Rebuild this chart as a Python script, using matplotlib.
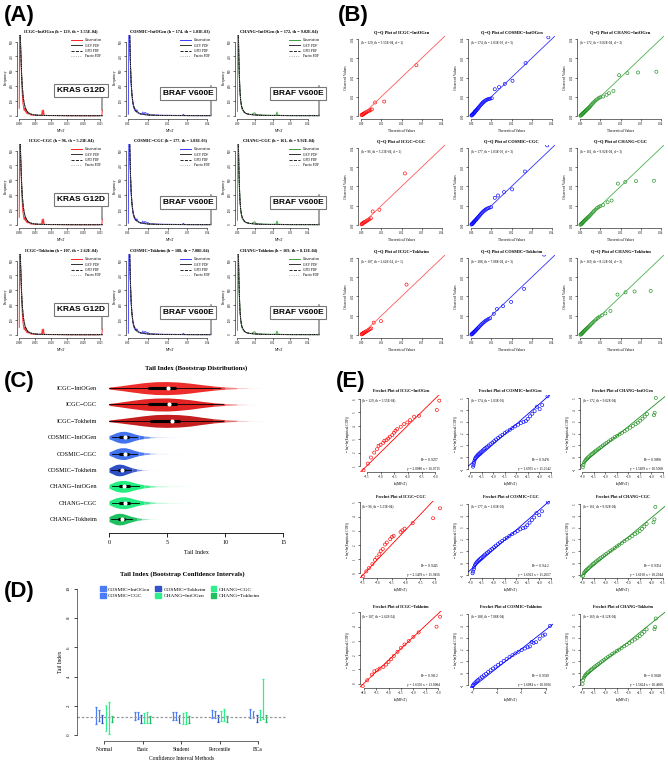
import numpy as np
import matplotlib
matplotlib.use('Agg')
import matplotlib.pyplot as plt
from matplotlib.patches import Patch
from matplotlib.lines import Line2D

# ---------------- datos ----------------
dbs = ['ICGC', 'COSMIC', 'CHANG']
gene_sets = ['IntOGen', 'CGC', 'Tokheim']
h_vals = [[129, 174, 172], [96, 177, 161], [107, 188, 169]]
th_vals = [['3.55E-04', '1.03E-03', '9.02E-04'],
           ['5.23E-04', '1.03E-03', '9.92E-04'],
           ['2.62E-04', '7.08E-04', '8.12E-04']]
d_vals = [1, 3, 3]
top_genes = ['KRAS G12D', 'BRAF V600E', 'BRAF V600E']

# (A) densidad observada y ajustes
a_icgc_obs_x = [0.0001, 0.0002, 0.0004, 0.0006, 0.0008, 0.0010, 0.0012, 0.0014, 0.0016, 0.0018, 0.0020,
                0.0022, 0.0024, 0.0026, 0.0028, 0.0030, 0.0035, 0.0040, 0.0050, 0.0060, 0.0070, 0.0072,
                0.0074, 0.0076, 0.0078, 0.0080, 0.0090, 0.0120, 0.0160, 0.0200, 0.0240, 0.0256, 0.0258]
a_icgc_obs_y = [50, 560, 560, 420, 260, 160, 90, 60, 35, 50, 25, 45, 15, 30, 10, 20, 6, 4, 3, 2, 3, 38,
                6, 38, 4, 2, 1, 1, 0, 0, 0, 2, 40]
a_icgc_fit_x = [0.0003, 0.0004, 0.0006, 0.0008, 0.0010, 0.0013, 0.0016, 0.0020, 0.0025, 0.0030, 0.0040,
                0.0050, 0.0070, 0.0100, 0.0150, 0.0200, 0.0258]
a_icgc_gev = [600, 560, 420, 300, 210, 130, 85, 50, 30, 18, 9, 5, 2.5, 1.2, 0.5, 0.3, 0.2]
a_icgc_gpd = [620, 545, 405, 292, 206, 128, 84, 50, 30, 18, 9, 5, 2.5, 1.2, 0.5, 0.3, 0.2]
a_icgc_par = [640, 530, 395, 285, 202, 126, 83, 49, 29, 17, 9, 5, 2.5, 1.2, 0.5, 0.3, 0.2]

a_cosmic_obs_x = [0.0002, 0.0004, 0.0008, 0.0010, 0.0013, 0.0016, 0.0020, 0.0025, 0.0030, 0.0035, 0.0040,
                  0.0045, 0.0050, 0.0060, 0.0070, 0.0075, 0.0080, 0.0085, 0.0090, 0.0095, 0.0100, 0.0110,
                  0.0130, 0.0150, 0.0180, 0.0200, 0.0250, 0.0275, 0.0280, 0.0285, 0.0300, 0.0350, 0.0400,
                  0.0415, 0.0420]
a_cosmic_obs_y = [10, 560, 560, 480, 330, 220, 140, 80, 50, 35, 30, 40, 25, 12, 10, 25, 8, 22, 20, 8, 15, 6,
                  5, 4, 3, 3, 2, 2, 10, 2, 1, 1, 1, 1, 6]
a_cosmic_fit_x = [0.0008, 0.0010, 0.0013, 0.0016, 0.0020, 0.0025, 0.0030, 0.0040, 0.0050, 0.0070, 0.0100,
                  0.0150, 0.0200, 0.0300, 0.0420]
a_cosmic_gev = [620, 480, 330, 225, 145, 90, 60, 32, 20, 10, 5, 2.5, 1.5, 0.8, 0.4]
a_cosmic_gpd = [600, 470, 325, 222, 144, 90, 60, 32, 20, 10, 5, 2.5, 1.5, 0.8, 0.4]
a_cosmic_par = [640, 490, 335, 228, 146, 91, 60, 32, 20, 10, 5, 2.5, 1.5, 0.8, 0.4]

a_chang_obs_x = [0.0002, 0.0004, 0.0006, 0.0008, 0.0010, 0.0013, 0.0016, 0.0020, 0.0025, 0.0030, 0.0040,
                 0.0050, 0.0060, 0.0080, 0.0095, 0.0100, 0.0105, 0.0120, 0.0150, 0.0200, 0.0220, 0.0225,
                 0.0230, 0.0260, 0.0300, 0.0400, 0.0460, 0.0465]
a_chang_obs_y = [30, 560, 560, 500, 380, 250, 160, 100, 60, 40, 22, 15, 10, 8, 18, 20, 10, 5, 4, 3, 5, 25,
                 4, 2, 1, 1, 1, 8]
a_chang_fit_x = [0.0006, 0.0008, 0.0010, 0.0013, 0.0016, 0.0020, 0.0025, 0.0030, 0.0040, 0.0050, 0.0070,
                 0.0100, 0.0150, 0.0200, 0.0300, 0.0465]
a_chang_gev = [620, 500, 380, 260, 170, 105, 65, 45, 25, 16, 9, 5, 2.5, 1.5, 0.8, 0.4]
a_chang_gpd = [600, 490, 375, 257, 168, 104, 65, 45, 25, 16, 9, 5, 2.5, 1.5, 0.8, 0.4]
a_chang_par = [640, 510, 385, 263, 172, 106, 66, 45, 25, 16, 9, 5, 2.5, 1.5, 0.8, 0.4]

# (B) Q-Q: teoricos / observados
qq_icgc_int_t = [0.0002, 0.0004, 0.0006, 0.0008, 0.0010, 0.0012, 0.0015, 0.0018, 0.0021, 0.0025, 0.0029,
                 0.0034, 0.0040, 0.0046, 0.0053, 0.0069, 0.0114, 0.0274]
qq_icgc_int_o = [0.0004, 0.0006, 0.0007, 0.0008, 0.0010, 0.0011, 0.0013, 0.0015, 0.0017, 0.0019, 0.0022,
                 0.0025, 0.0027, 0.0031, 0.0034, 0.0070, 0.0075, 0.0264]
qq_icgc_cgc_t = [0.0002, 0.0004, 0.0006, 0.0008, 0.0011, 0.0014, 0.0017, 0.0021, 0.0025, 0.0030, 0.0035,
                 0.0041, 0.0048, 0.0057, 0.0090, 0.0217]
qq_icgc_cgc_o = [0.0003, 0.0005, 0.0007, 0.0009, 0.0011, 0.0013, 0.0015, 0.0017, 0.0020, 0.0023, 0.0027,
                 0.0030, 0.0035, 0.0070, 0.0079, 0.0268]
qq_icgc_tok_t = [0.0002, 0.0004, 0.0006, 0.0008, 0.0010, 0.0013, 0.0016, 0.0019, 0.0023, 0.0027, 0.0032,
                 0.0037, 0.0043, 0.0050, 0.0062, 0.0098, 0.0225]
qq_icgc_tok_o = [0.0003, 0.0005, 0.0006, 0.0008, 0.0009, 0.0011, 0.0013, 0.0015, 0.0017, 0.0020, 0.0023,
                 0.0026, 0.0030, 0.0034, 0.0064, 0.0072, 0.0262]
qq_cosmic_int_t = [0.0001, 0.0003, 0.0005, 0.0007, 0.0009, 0.0011, 0.0013, 0.0015, 0.0017, 0.0019, 0.0021,
                   0.0024, 0.0027, 0.0030, 0.0033, 0.0036, 0.0040, 0.0044, 0.0048, 0.0052, 0.0056, 0.0060,
                   0.0065, 0.0070, 0.0075, 0.0081, 0.0087, 0.0094, 0.0102, 0.0117, 0.0138, 0.0167, 0.0205,
                   0.0270, 0.0383]
qq_cosmic_int_o = [0.0002, 0.0004, 0.0006, 0.0008, 0.0010, 0.0012, 0.0014, 0.0017, 0.0019, 0.0022, 0.0025,
                   0.0028, 0.0031, 0.0035, 0.0039, 0.0043, 0.0048, 0.0053, 0.0058, 0.0063, 0.0068, 0.0072,
                   0.0076, 0.0080, 0.0083, 0.0086, 0.0088, 0.0090, 0.0092, 0.0139, 0.0150, 0.0167, 0.0183,
                   0.0275, 0.0409]
qq_cosmic_cgc_t = [0.0001, 0.0003, 0.0005, 0.0007, 0.0009, 0.0011, 0.0013, 0.0015, 0.0017, 0.0020, 0.0023,
                   0.0026, 0.0029, 0.0032, 0.0036, 0.0040, 0.0044, 0.0048, 0.0052, 0.0057, 0.0062, 0.0067,
                   0.0072, 0.0078, 0.0084, 0.0091, 0.0099, 0.0117, 0.0133, 0.0163, 0.0203, 0.0267, 0.0377]
qq_cosmic_cgc_o = [0.0002, 0.0004, 0.0006, 0.0008, 0.0010, 0.0012, 0.0015, 0.0017, 0.0020, 0.0023, 0.0026,
                   0.0030, 0.0034, 0.0038, 0.0042, 0.0047, 0.0052, 0.0057, 0.0062, 0.0067, 0.0072, 0.0076,
                   0.0080, 0.0084, 0.0087, 0.0090, 0.0093, 0.0141, 0.0153, 0.0171, 0.0185, 0.0278, 0.0414]
qq_cosmic_tok_t = [0.0001, 0.0003, 0.0005, 0.0007, 0.0009, 0.0011, 0.0013, 0.0016, 0.0019, 0.0022, 0.0025,
                   0.0028, 0.0032, 0.0036, 0.0040, 0.0045, 0.0050, 0.0055, 0.0060, 0.0066, 0.0072, 0.0079,
                   0.0086, 0.0094, 0.0112, 0.0128, 0.0158, 0.0198, 0.0262, 0.0362]
qq_cosmic_tok_o = [0.0002, 0.0004, 0.0006, 0.0008, 0.0010, 0.0012, 0.0014, 0.0017, 0.0020, 0.0023, 0.0027,
                   0.0030, 0.0034, 0.0039, 0.0043, 0.0049, 0.0054, 0.0059, 0.0064, 0.0069, 0.0074, 0.0079,
                   0.0083, 0.0087, 0.0110, 0.0135, 0.0150, 0.0172, 0.0240, 0.0418]
qq_chang_int_t = [0.0001, 0.0003, 0.0005, 0.0007, 0.0009, 0.0011, 0.0013, 0.0015, 0.0017, 0.0019, 0.0022,
                  0.0025, 0.0028, 0.0031, 0.0034, 0.0038, 0.0042, 0.0046, 0.0050, 0.0055, 0.0060, 0.0065,
                  0.0071, 0.0077, 0.0084, 0.0092, 0.0100, 0.0114, 0.0131, 0.0143, 0.0165, 0.0193, 0.0234,
                  0.0287, 0.0378]
qq_chang_int_o = [0.0001, 0.0003, 0.0005, 0.0007, 0.0009, 0.0011, 0.0013, 0.0015, 0.0017, 0.0019, 0.0022,
                  0.0025, 0.0028, 0.0031, 0.0034, 0.0038, 0.0042, 0.0046, 0.0051, 0.0057, 0.0063, 0.0069,
                  0.0075, 0.0081, 0.0087, 0.0093, 0.0097, 0.0101, 0.0110, 0.0118, 0.0130, 0.0212, 0.0223,
                  0.0226, 0.0230]
qq_chang_cgc_t = [0.0001, 0.0003, 0.0005, 0.0007, 0.0009, 0.0011, 0.0013, 0.0015, 0.0018, 0.0021, 0.0024,
                  0.0027, 0.0030, 0.0034, 0.0038, 0.0042, 0.0047, 0.0052, 0.0057, 0.0063, 0.0069, 0.0076,
                  0.0083, 0.0091, 0.0100, 0.0114, 0.0136, 0.0156, 0.0187, 0.0224, 0.0277, 0.0366]
qq_chang_cgc_o = [0.0001, 0.0003, 0.0005, 0.0007, 0.0009, 0.0011, 0.0013, 0.0016, 0.0019, 0.0022, 0.0025,
                  0.0028, 0.0031, 0.0035, 0.0039, 0.0043, 0.0048, 0.0054, 0.0060, 0.0066, 0.0073, 0.0080,
                  0.0087, 0.0093, 0.0098, 0.0104, 0.0118, 0.0127, 0.0215, 0.0224, 0.0228, 0.0230]
qq_chang_tok_t = [0.0001, 0.0003, 0.0005, 0.0007, 0.0009, 0.0011, 0.0013, 0.0015, 0.0018, 0.0021, 0.0024,
                  0.0027, 0.0031, 0.0035, 0.0039, 0.0044, 0.0049, 0.0054, 0.0060, 0.0066, 0.0073, 0.0080,
                  0.0088, 0.0096, 0.0108, 0.0125, 0.0150, 0.0185, 0.0225, 0.0270, 0.0350]
qq_chang_tok_o = [0.0001, 0.0003, 0.0005, 0.0007, 0.0009, 0.0011, 0.0013, 0.0016, 0.0019, 0.0022, 0.0025,
                  0.0028, 0.0032, 0.0036, 0.0040, 0.0045, 0.0050, 0.0056, 0.0062, 0.0068, 0.0075, 0.0082,
                  0.0089, 0.0095, 0.0102, 0.0112, 0.0125, 0.0210, 0.0222, 0.0226, 0.0229]

# (E) Frechet: ln(MFsT) / -ln(-ln(ECDF))
fr_icgc_int_x = [-7.62, -7.46, -7.35, -7.23, -7.13, -7.07, -7.00, -6.90, -6.86, -6.78, -6.72, -6.66, -6.57,
                 -6.51, -6.45, -6.39, -6.26, -6.14, -6.02, -5.92, -5.77, -5.59, -4.94, -4.85]
fr_icgc_int_y = [0.68, 1.18, 1.63, 2.00, 2.25, 2.50, 2.58, 2.73, 2.88, 2.93, 3.05, 3.18, 3.30, 3.48, 3.63,
                 3.75, 3.93, 4.13, 4.25, 4.43, 4.68, 4.75, 5.18, 5.88]
fr_icgc_cgc_x = [-7.50, -7.38, -7.29, -7.17, -7.08, -7.02, -6.93, -6.88, -6.81, -6.73, -6.67, -6.55, -6.49,
                 -6.43, -6.19, -6.13, -6.05, -5.77, -5.06, -4.82]
fr_icgc_cgc_y = [-0.23, 0.12, 0.35, 0.63, 0.93, 1.09, 1.33, 1.56, 1.70, 2.02, 2.16, 2.40, 2.56, 2.63, 2.91,
                 3.02, 3.14, 3.53, 3.88, 4.58]
fr_icgc_tok_x = [-8.04, -7.86, -7.67, -7.57, -7.47, -7.36, -7.21, -7.10, -7.00, -6.90, -6.79, -6.64, -6.50,
                 -6.36, -6.19, -6.00, -5.79, -5.07, -4.93]
fr_icgc_tok_y = [-0.16, 0.24, 0.64, 0.87, 0.94, 1.06, 1.18, 1.34, 1.53, 1.72, 1.95, 2.24, 2.52, 2.75, 2.99,
                 3.29, 3.60, 4.00, 4.70]
fr_cosmic_int_x = [-6.88, -6.86, -6.84, -6.82, -6.80, -6.77, -6.74, -6.70, -6.66, -6.62, -6.57, -6.52, -6.46,
                   -6.40, -6.34, -6.27, -6.20, -6.12, -6.04, -5.96, -5.88, -5.79, -5.70, -5.60, -5.50, -5.40,
                   -5.28, -5.17, -5.05, -4.92, -4.80, -4.68, -4.58, -4.50, -4.40, -4.30, -4.20, -4.10, -3.98,
                   -3.87, -3.64]
fr_cosmic_int_y = [-0.80, -0.66, -0.48, -0.30, -0.16, -0.06, 0.04, 0.13, 0.22, 0.29, 0.38, 0.47, 0.57, 0.68,
                   0.77, 0.88, 0.99, 1.11, 1.24, 1.36, 1.50, 1.63, 1.76, 1.89, 2.04, 2.17, 2.31, 2.45, 2.60,
                   2.74, 2.88, 2.98, 3.05, 3.23, 3.45, 3.67, 3.89, 4.26, 4.06, 4.40, 5.14]
fr_cosmic_cgc_x = [-6.90, -6.88, -6.85, -6.83, -6.80, -6.76, -6.72, -6.68, -6.63, -6.58, -6.53, -6.47, -6.41,
                   -6.35, -6.28, -6.21, -6.13, -6.05, -5.97, -5.89, -5.80, -5.71, -5.61, -5.51, -5.41, -5.30,
                   -5.18, -5.06, -4.94, -4.82, -4.70, -4.60, -4.52, -4.42, -4.32, -4.22, -4.12, -4.00, -3.88,
                   -3.62]
fr_cosmic_cgc_y = [-0.85, -0.70, -0.50, -0.33, -0.15, -0.02, 0.08, 0.17, 0.26, 0.35, 0.44, 0.54, 0.65, 0.75,
                   0.86, 0.97, 1.10, 1.22, 1.35, 1.48, 1.62, 1.75, 1.88, 2.03, 2.15, 2.30, 2.45, 2.58, 2.72,
                   2.86, 2.96, 3.02, 3.20, 3.42, 3.64, 3.86, 4.22, 4.05, 4.38, 5.13]
fr_cosmic_tok_x = [-7.08, -7.06, -7.04, -7.01, -6.98, -6.94, -6.89, -6.84, -6.78, -6.71, -6.63, -6.55, -6.46,
                   -6.37, -6.27, -6.17, -6.07, -5.96, -5.85, -5.73, -5.61, -5.49, -5.37, -5.25, -5.12, -4.99,
                   -4.86, -4.74, -4.65, -4.58, -4.50, -4.40, -4.25, -4.12, -4.03, -3.82]
fr_cosmic_tok_y = [-1.60, -1.41, -1.23, -1.08, -0.98, -0.87, -0.77, -0.67, -0.56, -0.44, -0.31, -0.18, -0.05,
                   0.10, 0.25, 0.40, 0.55, 0.71, 0.86, 1.04, 1.20, 1.36, 1.52, 1.67, 1.81, 1.95, 2.08, 2.19,
                   2.26, 2.63, 2.56, 2.62, 2.91, 3.17, 3.26, 4.00]
fr_chang_int_x = [-6.98, -6.95, -6.92, -6.88, -6.84, -6.80, -6.75, -6.70, -6.64, -6.58, -6.52, -6.46, -6.40,
                  -6.33, -6.26, -6.19, -6.11, -6.03, -5.95, -5.86, -5.77, -5.68, -5.58, -5.48, -5.38, -5.27,
                  -5.16, -5.05, -4.92, -4.80, -4.68, -4.58, -4.48, -4.38, -4.28, -4.18, -3.88, -3.85, -3.80]
fr_chang_int_y = [-0.85, -0.65, -0.45, -0.31, -0.21, -0.11, -0.02, 0.07, 0.18, 0.28, 0.38, 0.47, 0.56, 0.66,
                  0.76, 0.86, 0.98, 1.09, 1.20, 1.32, 1.45, 1.56, 1.69, 1.81, 1.93, 2.06, 2.19, 2.33, 2.49,
                  2.64, 2.79, 2.92, 3.08, 3.25, 3.43, 3.64, 3.55, 3.75, 5.00]
fr_chang_cgc_x = [-6.98, -6.96, -6.93, -6.90, -6.86, -6.82, -6.77, -6.72, -6.66, -6.60, -6.54, -6.48, -6.41,
                  -6.34, -6.27, -6.20, -6.12, -6.04, -5.96, -5.87, -5.78, -5.69, -5.59, -5.49, -5.39, -5.28,
                  -5.17, -5.06, -4.94, -4.82, -4.70, -4.60, -4.50, -4.40, -4.30, -4.20, -3.90, -3.86, -3.82]
fr_chang_cgc_y = [-1.33, -1.05, -0.86, -0.76, -0.66, -0.58, -0.48, -0.39, -0.28, -0.17, -0.07, 0.02, 0.14,
                  0.24, 0.34, 0.45, 0.56, 0.67, 0.78, 0.91, 1.03, 1.15, 1.28, 1.42, 1.56, 1.71, 1.86, 2.00,
                  2.15, 2.30, 2.45, 2.58, 2.72, 2.90, 3.09, 3.31, 3.45, 3.70, 4.75]
fr_chang_tok_x = [-6.99, -6.96, -6.93, -6.89, -6.85, -6.80, -6.75, -6.69, -6.63, -6.57, -6.50, -6.43, -6.36,
                  -6.29, -6.21, -6.13, -6.05, -5.97, -5.88, -5.79, -5.70, -5.60, -5.50, -5.40, -5.29, -5.18,
                  -5.07, -4.95, -4.83, -4.71, -4.60, -4.50, -4.40, -4.30, -4.20, -3.86, -3.83, -3.80]
fr_chang_tok_y = [-0.91, -0.61, -0.37, -0.23, -0.12, -0.02, 0.07, 0.18, 0.28, 0.38, 0.49, 0.59, 0.69, 0.79,
                  0.91, 1.02, 1.14, 1.25, 1.37, 1.49, 1.62, 1.74, 1.87, 1.99, 2.13, 2.27, 2.40, 2.55, 2.69,
                  2.84, 2.99, 3.13, 3.31, 3.49, 3.70, 3.72, 3.90, 4.62]
fr_slope = [[2.0080, 1.6935, 1.5839], [2.1439, 1.6923, 1.6160], [1.6356, 1.6084, 1.5624]]
fr_icpt = [[16.0715, 11.2542, 10.5068], [15.9456, 11.2657, 10.2944], [13.0984, 10.0926, 10.4606]]
fr_r2 = [['0.9237', '0.9478', '0.9608'], ['0.9245', '0.9412', '0.9324'], ['0.9812', '0.9549', '0.9648']]

# (C) perfiles de densidad bootstrap del indice de cola
vio_labels = ['ICGC−IntOGen', 'ICGC−CGC', 'ICGC−Tokheim', 'COSMIC−IntOGen', 'COSMIC−CGC',
              'COSMIC−Tokheim', 'CHANG−IntOGen', 'CHANG−CGC', 'CHANG−Tokheim']
vio_colors = ['#ee2c2c', '#e02424', '#c41e1e', '#4272ee', '#4272ee', '#2e4fc4', '#22ee80', '#22ea80', '#1ec062']
vio_icgc_int_v = [0, 0.5, 1, 2, 3, 4, 5, 6, 7, 8, 9, 10, 11, 12, 13, 14.4]
vio_icgc_int_d = [0.06, 0.10, 0.14, 0.24, 0.33, 0.39, 0.40, 0.37, 0.30, 0.21, 0.13, 0.07, 0.035, 0.015, 0.007, 0.0]
vio_icgc_cgc_v = [0, 0.5, 1, 2, 3, 4, 5, 6, 7, 8, 9, 10, 11, 12, 13.6]
vio_icgc_cgc_d = [0.06, 0.10, 0.15, 0.25, 0.34, 0.39, 0.40, 0.36, 0.29, 0.19, 0.11, 0.06, 0.03, 0.012, 0.0]
vio_icgc_tok_v = [0, 0.5, 1, 2, 3, 4, 5, 6, 7, 8, 9, 10, 11, 12, 13, 14.5]
vio_icgc_tok_d = [0.05, 0.09, 0.13, 0.22, 0.31, 0.38, 0.40, 0.38, 0.32, 0.22, 0.13, 0.07, 0.035, 0.015, 0.007, 0.0]
vio_cosmic_int_v = [0, 0.3, 0.6, 1.0, 1.4, 1.8, 2.2, 2.6, 3.0, 3.5, 4.0, 5.0, 6.0, 7.0, 7.8]
vio_cosmic_int_d = [0.25, 0.45, 0.68, 0.88, 0.9, 0.74, 0.5, 0.32, 0.2, 0.11, 0.06, 0.03, 0.015, 0.007, 0.0]
vio_cosmic_cgc_v = [0, 0.3, 0.6, 1.0, 1.4, 1.8, 2.2, 2.6, 3.0, 3.5, 4.0, 5.0, 6.0, 7.4]
vio_cosmic_cgc_d = [0.25, 0.46, 0.7, 0.89, 0.9, 0.72, 0.48, 0.3, 0.18, 0.1, 0.05, 0.025, 0.01, 0.0]
vio_cosmic_tok_v = [0, 0.3, 0.6, 0.9, 1.2, 1.6, 2.0, 2.4, 2.8, 3.3, 3.8, 4.6]
vio_cosmic_tok_d = [0.35, 0.62, 0.88, 0.95, 0.87, 0.6, 0.34, 0.17, 0.08, 0.035, 0.012, 0.0]
vio_chang_int_v = [0, 0.3, 0.6, 1.0, 1.4, 1.8, 2.2, 2.6, 3.0, 3.5, 4.0, 5.0, 6.0, 7.0, 8.0, 9.6]
vio_chang_int_d = [0.3, 0.52, 0.75, 0.89, 0.9, 0.75, 0.54, 0.37, 0.24, 0.15, 0.09, 0.05, 0.03, 0.015, 0.008, 0.0]
vio_chang_cgc_v = [0, 0.3, 0.6, 1.0, 1.4, 1.8, 2.2, 2.6, 3.0, 3.5, 4.0, 5.0, 6.0, 7.0, 8.0, 9.4]
vio_chang_cgc_d = [0.3, 0.52, 0.75, 0.89, 0.9, 0.76, 0.55, 0.38, 0.25, 0.15, 0.09, 0.05, 0.03, 0.015, 0.008, 0.0]
vio_chang_tok_v = [0, 0.3, 0.6, 0.9, 1.2, 1.6, 2.0, 2.4, 2.8, 3.3, 3.8, 4.5, 5.8]
vio_chang_tok_d = [0.4, 0.65, 0.88, 0.95, 0.88, 0.64, 0.4, 0.23, 0.12, 0.06, 0.03, 0.012, 0.0]
# q1, mediana, q3, bigote inferior, bigote superior
vio_box = [[3.4, 5.1, 5.8, 0.0, 9.6], [3.4, 5.2, 5.9, 0.0, 9.8], [3.5, 5.4, 6.1, 0.0, 9.8],
           [0.9, 1.4, 1.7, 0.3, 2.4], [0.9, 1.35, 1.7, 0.3, 2.4], [0.8, 1.1, 1.4, 0.2, 1.9],
           [0.9, 1.3, 1.8, 0.3, 2.6], [0.9, 1.35, 1.85, 0.3, 2.6], [0.8, 1.1, 1.4, 0.2, 2.0]]

# (D) intervalos de confianza bootstrap
ci_methods = ['Normal', 'Basic', 'Student', 'Percentile', 'BCa']
ci_groups = ['COSMIC−IntOGen', 'COSMIC−CGC', 'COSMIC−Tokheim', 'CHANG−IntOGen', 'CHANG−CGC', 'CHANG−Tokheim']
ci_colors = ['#4a7cf5', '#4a7cf5', '#3152c8', '#2ef08a', '#2ef08a', '#1fbf5f']
ci_low = [[0.73, 1.03, 1.02, 1.15, 1.20],
          [0.98, 1.10, 1.05, 1.15, 1.20],
          [0.86, 0.86, 0.86, 0.92, 0.92],
          [0.30, 0.80, 0.77, 1.00, 1.05],
          [0.07, 0.80, 0.74, 1.00, 1.08],
          [0.90, 0.85, 0.85, 0.88, 0.90]]
ci_high = [[1.93, 1.60, 1.58, 1.75, 1.80],
           [1.70, 1.55, 1.55, 1.68, 1.68],
           [1.36, 1.36, 1.36, 1.40, 1.40],
           [2.09, 1.50, 1.50, 1.68, 1.75],
           [2.30, 1.55, 1.55, 1.78, 3.85],
           [1.32, 1.30, 1.30, 1.32, 1.35]]
ci_ref = 1.25

# ---------------- figura ----------------
plt.rcParams['font.family'] = ['Liberation Serif', 'DejaVu Serif']
plt.rcParams['axes.linewidth'] = 0.4

W, H = 668, 766
fig = plt.figure(figsize=(W / 100, H / 100), dpi=100)


def add_ax(left, top, width, height):
    # posicion en pixeles desde arriba a la izquierda
    return fig.add_axes([left / W, 1 - (top + height) / H, width / W, height / H])


def r_style(ax, xt, yt, fs=2.2, xlabels=None, ylabels=None):
    # ejes al estilo R base: sin caja, ejes limitados a los ticks
    ax.set_xticks(xt)
    ax.set_yticks(yt)
    if xlabels is not None:
        ax.set_xticklabels(xlabels)
    if ylabels is not None:
        ax.set_yticklabels(ylabels)
    for s in ['top', 'right']:
        ax.spines[s].set_visible(False)
    ax.spines['bottom'].set_bounds(xt[0], xt[-1])
    ax.spines['left'].set_bounds(yt[0], yt[-1])
    ax.tick_params(length=1.5, width=0.4, pad=1, labelsize=fs)
    for lab in ax.get_yticklabels():
        lab.set_rotation(90)
        lab.set_va('center')


# ---------- (A) ----------
a_data = [
    (a_icgc_obs_x, a_icgc_obs_y, a_icgc_fit_x, a_icgc_gev, a_icgc_gpd, a_icgc_par),
    (a_cosmic_obs_x, a_cosmic_obs_y, a_cosmic_fit_x, a_cosmic_gev, a_cosmic_gpd, a_cosmic_par),
    (a_chang_obs_x, a_chang_obs_y, a_chang_fit_x, a_chang_gev, a_chang_gpd, a_chang_par),
]
a_cols = ['#ff2020', '#3a3aff', '#3aa03a']
a_left = [17, 126, 235]
a_top = [35, 144, 254]
a_xlim = [(-0.0006, 0.0266), (-0.001, 0.0435), (-0.0012, 0.0485)]
a_xt = [[0, 0.005, 0.01, 0.015, 0.02, 0.025], [0, 0.01, 0.02, 0.03, 0.04], [0, 0.01, 0.02, 0.03, 0.04]]
a_xl = [['0.000', '0.005', '0.010', '0.015', '0.020', '0.025'], ['0.00', '0.01', '0.02', '0.03', '0.04'],
        ['0.00', '0.01', '0.02', '0.03', '0.04']]
a_box = [(0.73, 0.34), (0.705, 0.30), (0.715, 0.30)]

for r in range(3):
    for c in range(3):
        ox, oy, fx, gev, gpd, par = a_data[c]
        ax = add_ax(a_left[c], a_top[r], 88, 84)
        ax.plot(ox, oy, color=a_cols[c], lw=0.7, alpha=0.9)
        ax.plot(fx, gev, color='#333333', lw=0.7)
        ax.plot(fx, gpd, color='black', lw=0.6, ls='--')
        ax.plot(fx, par, color='#999999', lw=0.6, ls=':')
        ax.set_xlim(*a_xlim[c])
        ax.set_ylim(-22, 545)
        r_style(ax, a_xt[c], [0, 100, 200, 300, 400, 500], fs=2.2, xlabels=a_xl[c])
        ax.set_title(f'{dbs[c]}−{gene_sets[r]} (h = {h_vals[r][c]}, th = {th_vals[r][c]})',
                     fontsize=3.1, fontweight='bold', pad=2)
        ax.set_xlabel('MFsT', fontsize=2.6, labelpad=1.5)
        ax.set_ylabel('Frequency', fontsize=2.6, labelpad=1.5)
        handles = [Line2D([], [], color=a_cols[c], lw=0.7), Line2D([], [], color='#333333', lw=0.7),
                   Line2D([], [], color='black', lw=0.6, ls='--'), Line2D([], [], color='#999999', lw=0.6, ls=':')]
        ax.legend(handles, ['Observation', 'GEV PDF', 'GPD PDF', 'Pareto PDF'], loc='upper right',
                  fontsize=2.5, frameon=False, handlelength=3, labelspacing=0.35, borderaxespad=0.6)
        # marca del evento extremo
        ax.plot([ox[-1], ox[-1]], [oy[-1], 200], color='#888888', lw=1.1, zorder=2)
        ax.text(a_box[c][0], a_box[c][1], top_genes[c], transform=ax.transAxes, ha='center', va='center',
                fontsize=6, fontweight='bold', family=['Liberation Sans', 'DejaVu Sans'], zorder=5,
                bbox=dict(boxstyle='square,pad=0.35', fc='white', ec='#777777', lw=0.8))

# ---------- (B) ----------
qq_t = [[qq_icgc_int_t, qq_cosmic_int_t, qq_chang_int_t],
        [qq_icgc_cgc_t, qq_cosmic_cgc_t, qq_chang_cgc_t],
        [qq_icgc_tok_t, qq_cosmic_tok_t, qq_chang_tok_t]]
qq_o = [[qq_icgc_int_o, qq_cosmic_int_o, qq_chang_int_o],
        [qq_icgc_cgc_o, qq_cosmic_cgc_o, qq_chang_cgc_o],
        [qq_icgc_tok_o, qq_cosmic_tok_o, qq_chang_tok_o]]
b_pt = ['red', 'blue', '#1f8f1f']
b_line = ['#ff5a5a', '#3030ff', '#4caf50']
b_left = [358, 468, 577]
b_top = [36, 145, 255]
qq_ticks = [0, 0.01, 0.02, 0.03, 0.04]

for r in range(3):
    for c in range(3):
        ax = add_ax(b_left[c], b_top[r], 87, 83)
        ax.plot([0, 0.0416], [0, 0.0416], color=b_line[c], lw=0.6)
        ax.scatter(qq_t[r][c], qq_o[r][c], s=5, facecolors='none', edgecolors=b_pt[c], linewidths=0.45)
        ax.set_xlim(-0.0016, 0.0416)
        ax.set_ylim(-0.0016, 0.0416)
        r_style(ax, qq_ticks, qq_ticks, fs=2.2, xlabels=['0.00', '0.01', '0.02', '0.03', '0.04'],
                ylabels=['0.00', '0.01', '0.02', '0.03', '0.04'])
        ax.set_title(f'Q−Q Plot of {dbs[c]}−{gene_sets[r]}', fontsize=3.2, fontweight='bold', pad=2)
        ax.set_xlabel('Theoretical Values', fontsize=2.6, labelpad=1.5)
        ax.set_ylabel('Observed Values', fontsize=2.6, labelpad=1.5)
        ax.text(0.03, 0.94, f'(h = {h_vals[r][c]}, th = {th_vals[r][c]}, d = {d_vals[c]})',
                transform=ax.transAxes, fontsize=2.4, va='top')

# ---------- (E) ----------
fr_x = [[fr_icgc_int_x, fr_cosmic_int_x, fr_chang_int_x],
        [fr_icgc_cgc_x, fr_cosmic_cgc_x, fr_chang_cgc_x],
        [fr_icgc_tok_x, fr_cosmic_tok_x, fr_chang_tok_x]]
fr_y = [[fr_icgc_int_y, fr_cosmic_int_y, fr_chang_int_y],
        [fr_icgc_cgc_y, fr_cosmic_cgc_y, fr_chang_cgc_y],
        [fr_icgc_tok_y, fr_cosmic_tok_y, fr_chang_tok_y]]
e_col = ['red', 'blue', '#1f8f1f']
e_left = [360, 468, 580]
e_width = [82, 85, 85]
e_top = [395, 501, 611]
half = [-7.0, -6.5, -6.0, -5.5, -5.0, -4.5, -4.0, -3.5]
e_xlim = [[(-7.75, -4.75), (-7.1, -3.4), (-7.1, -3.4)],
          [(-7.6, -4.75), (-7.1, -3.4), (-7.1, -3.4)],
          [(-8.15, -4.85), (-7.2, -3.7), (-7.1, -3.4)]]
e_ylim = [[(0.55, 6.3), (-1.25, 5.25), (-1.25, 5.25)],
          [(-0.35, 5.1), (-1.25, 5.25), (-1.25, 5.25)],
          [(-0.3, 5.1), (-1.25, 5.25), (-1.25, 5.25)]]
e_xt = [[[-7.5, -7.0, -6.5, -6.0, -5.5, -5.0], half, half],
        [[-7.5, -7.0, -6.5, -6.0, -5.5, -5.0], half, half],
        [[-8.0, -7.5, -7.0, -6.5, -6.0, -5.5, -5.0], [-7, -6, -5, -4], half]]
e_yt = [[[1, 2, 3, 4, 5, 6], [-1, 0, 1, 2, 3, 4, 5], [-1, 0, 1, 2, 3, 4, 5]],
        [[0, 1, 2, 3, 4, 5], [-1, 0, 1, 2, 3, 4, 5], [-1, 0, 1, 2, 3, 4, 5]],
        [[0, 1, 2, 3, 4, 5], [-1, 0, 1, 2, 3, 4, 5], [-1, 0, 1, 2, 3, 4, 5]]]

for r in range(3):
    for c in range(3):
        ax = add_ax(e_left[c], e_top[r], e_width[c], 77)
        x0, x1 = e_xlim[r][c]
        lx = np.array([x0, x1])
        ax.plot(lx, fr_slope[r][c] * lx + fr_icpt[r][c], color=e_col[c], lw=0.6)
        ax.scatter(fr_x[r][c], fr_y[r][c], s=5, facecolors='none', edgecolors=e_col[c], linewidths=0.45)
        ax.set_xlim(x0, x1)
        ax.set_ylim(*e_ylim[r][c])
        xt = e_xt[r][c]
        xl = [f'{v:.0f}' if c == 1 and r == 2 else f'{v:.1f}' for v in xt]
        xl = [s.replace('-', '−') for s in xl]
        r_style(ax, xt, e_yt[r][c], fs=2.2, xlabels=xl)
        ax.set_title(f'Frechet Plot of {dbs[c]}−{gene_sets[r]}', fontsize=3.0, fontweight='bold', pad=2)
        ax.set_xlabel('ln(MFsT)', fontsize=2.6, labelpad=1.5)
        ax.set_ylabel('− ln(−ln(Empirical CDF))', fontsize=2.5, labelpad=1.5)
        ax.text(0.03, 0.95, f'(h = {h_vals[r][c]}, th = {th_vals[r][c]})', transform=ax.transAxes,
                fontsize=2.4, va='top')
        ax.text(0.97, 0.13, f'R$^2$ = {fr_r2[r][c]}', transform=ax.transAxes, fontsize=2.5, ha='right')
        ax.text(0.97, 0.03, f'y = {fr_slope[r][c]:.4f} x + {fr_icpt[r][c]:.4f}', transform=ax.transAxes,
                fontsize=2.5, ha='right')

# ---------- (C) ----------
axc = add_ax(105.5, 375, 181, 158)
vio_v = [vio_icgc_int_v, vio_icgc_cgc_v, vio_icgc_tok_v, vio_cosmic_int_v, vio_cosmic_cgc_v,
         vio_cosmic_tok_v, vio_chang_int_v, vio_chang_cgc_v, vio_chang_tok_v]
vio_d = [vio_icgc_int_d, vio_icgc_cgc_d, vio_icgc_tok_d, vio_cosmic_int_d, vio_cosmic_cgc_d,
         vio_cosmic_tok_d, vio_chang_int_d, vio_chang_cgc_d, vio_chang_tok_d]
for i in range(9):
    y = i + 1
    v = np.array(vio_v[i])
    d = np.array(vio_d[i])
    hw = (0.40 if i < 3 else 0.36) * d / d.max()
    # cuerpo solido hasta donde la cola empieza a desvanecerse
    ipk = int(np.argmax(d))
    fade = np.clip(4.5 * hw / hw.max(), 0, 1)
    k = ipk
    while k + 1 < len(v) and fade[k + 1] >= 1:
        k += 1
    axc.fill_between(v[:k + 1], y - hw[:k + 1], y + hw[:k + 1], color=vio_colors[i], lw=0)
    for j in range(k, len(v) - 1):
        a = max(0.06, (fade[j] + fade[j + 1]) / 2)
        axc.fill_between(v[j:j + 2], y - hw[j:j + 2], y + hw[j:j + 2], color=vio_colors[i], lw=0, alpha=a)
    q1, med, q3, wl, wh = vio_box[i]
    axc.plot([wl, wh], [y, y], color='black', lw=0.6)
    axc.plot([q1, q3], [y, y], color='black', lw=2.2, solid_capstyle='butt')
    axc.scatter([med], [y], s=9, color='white', zorder=5, lw=0)

axc.set_xlim(-0.3, 15.3)
axc.set_ylim(9.85, 0.2)
axc.set_yticks(range(1, 10))
axc.set_yticklabels(vio_labels)
axc.set_xticks([0, 5, 10, 15])
for s in ['top', 'right', 'left']:
    axc.spines[s].set_visible(False)
axc.spines['bottom'].set_bounds(0, 15)
axc.spines['bottom'].set_linewidth(0.6)
axc.tick_params(axis='y', length=0, pad=6, labelsize=4.5)
axc.tick_params(axis='x', length=3, width=0.6, pad=2, labelsize=4.3)
axc.set_xlabel('Tail Index', fontsize=4.3, labelpad=4)
axc.set_title('Tail Index (Bootstrap Distributions)', fontsize=4.8, fontweight='bold', pad=4)

# ---------- (D) ----------
axd = add_ax(77, 583, 210, 158)
offs = [-0.2, -0.12, -0.04, 0.04, 0.12, 0.2]
for g in range(6):
    for m in range(5):
        x = m + 1 + offs[g]
        axd.vlines(x, ci_low[g][m], ci_high[g][m], color=ci_colors[g], lw=0.9)
        axd.hlines([ci_low[g][m], ci_high[g][m]], x - 0.025, x + 0.025, color=ci_colors[g], lw=0.9)
axd.axhline(ci_ref, color='#999999', lw=0.9, ls=(0, (2, 1.5)))
axd.set_xlim(0.3, 5.75)
axd.set_ylim(-0.4, 10.4)
r_style(axd, [1, 2, 3, 4, 5], [0, 2, 4, 6, 8, 10], fs=3.6, xlabels=ci_methods)
axd.tick_params(axis='both', length=2.5, width=0.5, pad=2)
axd.tick_params(axis='x', labelsize=4.0)
axd.set_xlabel('Confidence Interval Methods', fontsize=4.0, labelpad=3)
axd.set_ylabel('Tail Index', fontsize=4.0, labelpad=3)
axd.set_title('Tail Index (Bootstrap Confidence Intervals)', fontsize=4.8, fontweight='bold', pad=5)
handles = [Patch(color=col) for col in ci_colors]
axd.legend(handles, ci_groups, loc='upper center', bbox_to_anchor=(0.49, 1.01), ncol=3, fontsize=3.9,
           frameon=False, handlelength=1.0, handleheight=1.0, columnspacing=0.9, labelspacing=0.25,
           handletextpad=0.5)

# ---------- etiquetas de panel ----------
for lab, x, y in [('(A)', 4, 16), ('(B)', 338, 16), ('(C)', 4, 382), ('(D)', 4, 592), ('(E)', 336, 382)]:
    fig.text(x / W, 1 - y / H, lab, fontsize=16, fontweight='bold', va='center', ha='left',
             family=['Liberation Sans', 'DejaVu Sans'])

fig.savefig('out.png', dpi=100)
